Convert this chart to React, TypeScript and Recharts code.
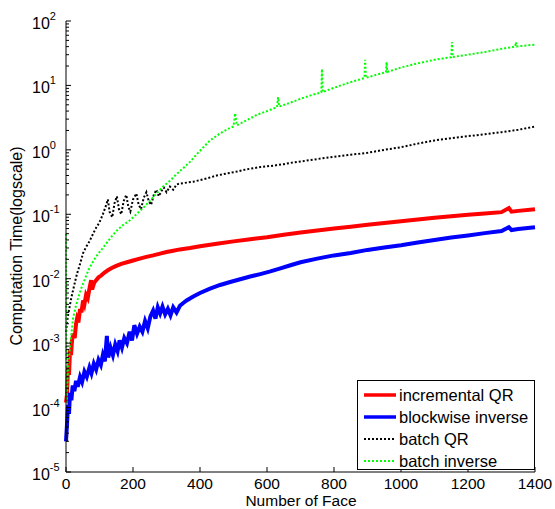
import { LineChart, Line, XAxis, YAxis, Legend } from 'recharts';

const FONT = "'Liberation Sans', Arial, sans-serif";

const xTicks = [0, 200, 400, 600, 800, 1000, 1200, 1400];
const yDecades = [1e-5, 1e-4, 1e-3, 1e-2, 1e-1, 1e0, 1e1, 1e2];
const yMinorSteps = [1, 2, 3, 4, 5, 6, 7, 8, 9];

// [number of faces, seconds]
const incrementalQR: [number, number][] = [
  [0, 1.2e-4], [3, 1.6e-4], [6, 4.3e-4], [9, 3.2e-4], [12, 8e-4], [15, 6.5e-4], [18, 1.1e-3],
  [22, 1.4e-3], [26, 1.2e-3], [30, 2.0e-3], [33, 2.4e-3], [37, 2.1e-3], [42, 3.4e-3], [46, 3.0e-3],
  [51, 4.6e-3], [55, 4.0e-3], [60, 5.6e-3], [65, 5.0e-3], [70, 7.0e-3], [75, 9.5e-3], [78, 6.8e-3],
  [84, 8.6e-3], [90, 9.5e-3], [97, 1.05e-2], [105, 1.12e-2], [115, 1.25e-2], [125, 1.35e-2],
  [135, 1.45e-2], [150, 1.58e-2], [165, 1.7e-2], [182, 1.8e-2], [200, 1.92e-2], [220, 2.05e-2],
  [240, 2.18e-2], [260, 2.3e-2], [281, 2.45e-2], [300, 2.6e-2], [320, 2.72e-2], [340, 2.85e-2],
  [370, 3.0e-2], [400, 3.2e-2], [450, 3.5e-2], [500, 3.8e-2], [550, 4.1e-2], [600, 4.4e-2],
  [650, 4.8e-2], [700, 5.2e-2], [750, 5.6e-2], [800, 6.0e-2], [850, 6.4e-2], [900, 6.9e-2],
  [950, 7.3e-2], [1000, 7.8e-2], [1050, 8.3e-2], [1100, 8.8e-2], [1150, 9.3e-2], [1200, 9.8e-2],
  [1250, 0.103], [1300, 0.108], [1322, 0.125], [1330, 0.11], [1350, 0.113], [1400, 0.12],
];

const blockwiseInverse: [number, number][] = [
  [0, 3.0e-5], [3, 5.5e-5], [6, 1.1e-4], [9, 8e-5], [12, 1.7e-4], [16, 1.3e-4], [20, 2.2e-4],
  [25, 1.8e-4], [30, 2.6e-4], [35, 2.1e-4], [42, 3.0e-4], [48, 2.5e-4], [55, 3.6e-4], [62, 3.0e-4],
  [70, 4.2e-4], [76, 3.4e-4], [83, 4.8e-4], [90, 3.9e-4], [97, 5.5e-4], [104, 4.6e-4], [110, 6.5e-4],
  [116, 5.2e-4], [122, 1.3e-3], [126, 6.0e-4], [133, 8.5e-4], [140, 6.5e-4], [147, 9.5e-4],
  [154, 7.5e-4], [160, 1.1e-3], [167, 8.5e-4], [174, 1.2e-3], [182, 1.0e-3], [190, 1.5e-3],
  [197, 1.1e-3], [204, 1.9e-3], [212, 1.4e-3], [220, 1.8e-3], [228, 1.5e-3], [236, 2.2e-3],
  [244, 1.7e-3], [252, 2.6e-3], [260, 3.2e-3], [267, 2.4e-3], [274, 3.6e-3], [281, 2.9e-3],
  [288, 3.7e-3], [296, 2.8e-3], [304, 3.4e-3], [312, 2.7e-3], [320, 3.6e-3], [330, 3.0e-3],
  [340, 3.8e-3], [350, 4.2e-3], [360, 4.6e-3], [380, 5.3e-3], [400, 6.0e-3], [430, 7.0e-3],
  [460, 8.0e-3], [490, 8.9e-3], [520, 9.8e-3], [550, 1.08e-2], [580, 1.18e-2], [610, 1.3e-2],
  [640, 1.45e-2], [670, 1.62e-2], [700, 1.8e-2], [750, 2.05e-2], [800, 2.3e-2], [850, 2.5e-2],
  [900, 2.8e-2], [950, 3.05e-2], [1000, 3.3e-2], [1050, 3.65e-2], [1100, 4.0e-2], [1150, 4.35e-2],
  [1200, 4.7e-2], [1250, 5.1e-2], [1300, 5.5e-2], [1322, 6.3e-2], [1330, 5.7e-2], [1350, 5.9e-2],
  [1400, 6.3e-2],
];

const batchQR: [number, number][] = [
  [0, 1.5e-3], [5, 2.5e-3], [10, 3.5e-3], [15, 4.8e-3], [21, 6.6e-3], [27, 9e-3], [33, 1.2e-2],
  [42, 1.7e-2], [51, 2.5e-2], [60, 3.1e-2], [70, 3.8e-2], [81, 5.0e-2], [90, 6.2e-2], [100, 7.5e-2],
  [110, 0.1], [118, 0.13], [125, 0.17], [130, 0.11], [138, 0.09], [145, 0.15], [152, 0.19],
  [158, 0.12], [165, 0.1], [172, 0.16], [180, 0.2], [186, 0.13], [192, 0.11], [200, 0.17],
  [210, 0.21], [217, 0.14], [224, 0.12], [232, 0.18], [240, 0.22], [247, 0.16], [254, 0.14],
  [262, 0.2], [270, 0.24], [277, 0.19], [285, 0.23], [292, 0.26], [300, 0.22], [310, 0.27],
  [320, 0.24], [330, 0.29], [340, 0.3], [360, 0.31], [380, 0.32], [400, 0.34], [420, 0.36],
  [450, 0.4], [480, 0.43], [510, 0.46], [540, 0.5], [580, 0.54], [620, 0.57], [650, 0.6],
  [680, 0.64], [700, 0.66], [750, 0.72], [800, 0.78], [850, 0.84], [900, 0.9], [950, 1.0],
  [1000, 1.1], [1050, 1.25], [1100, 1.4], [1150, 1.52], [1200, 1.63], [1250, 1.75], [1300, 1.88],
  [1350, 2.05], [1400, 2.3],
];

const batchInverse: [number, number][] = [
  [0, 0.05], [2, 1.2e-4], [5, 3e-4], [9, 6e-4], [14, 1.1e-3], [21, 2.4e-3], [28, 3.5e-3],
  [36, 5e-3], [45, 7e-3], [55, 9.5e-3], [68, 1.4e-2], [82, 1.9e-2], [95, 2.4e-2], [110, 3.0e-2],
  [125, 3.8e-2], [140, 4.8e-2], [155, 5.8e-2], [170, 6.8e-2], [190, 8.0e-2], [210, 0.1],
  [230, 0.125], [250, 0.16], [270, 0.21], [290, 0.27], [310, 0.33], [330, 0.42], [350, 0.52],
  [370, 0.65], [390, 0.85], [410, 1.1], [430, 1.4], [460, 1.8], [490, 2.2], [500, 2.3], [505, 3.7],
  [510, 2.4], [540, 2.9], [570, 3.5], [600, 4.0], [630, 4.6], [633, 6.6], [636, 4.7], [670, 5.4],
  [700, 6.2], [730, 7.0], [762, 7.8], [764, 18], [766, 7.9], [800, 9.2], [830, 10.4], [860, 11.7],
  [891, 13], [893, 25], [895, 13.1], [930, 14.8], [955, 16], [957, 23], [959, 16.2], [1000, 19],
  [1050, 22], [1100, 25], [1150, 27.5], [1152, 47], [1154, 27.6], [1200, 30], [1250, 33],
  [1300, 37], [1341, 40], [1343, 47], [1345, 40.2], [1400, 43],
];

const series = [
  { name: 'incremental QR', color: '#ff0000', data: incrementalQR, width: 4, dash: undefined as string | undefined },
  { name: 'blockwise inverse', color: '#0000ff', data: blockwiseInverse, width: 4, dash: undefined as string | undefined },
  { name: 'batch QR', color: '#000000', data: batchQR, width: 2, dash: '2 2' },
  { name: 'batch inverse', color: '#00ff00', data: batchInverse, width: 2, dash: '2 2' },
];

const yTicks = yDecades.flatMap((d, i) =>
  i === yDecades.length - 1 ? [d] : yMinorSteps.map((m) => d * m)
);

const isDecade = (v: number) => {
  const lg = Math.log10(v);
  return Math.abs(lg - Math.round(lg)) < 1e-6;
};

const LeftTick = (props: any) => {
  const { x, y, payload } = props;
  const major = isDecade(payload.value);
  const exp = Math.round(Math.log10(payload.value));
  return (
    <g>
      <line x1={x} x2={x + (major ? 5 : 3)} y1={y} y2={y} stroke="#000" />
      {major && (
        <text x={x - 34} y={y + 8} textAnchor="start" fontSize={16} fontFamily={FONT} fill="#000">
          10<tspan dy={-9} fontSize={11}>{exp}</tspan>
        </text>
      )}
    </g>
  );
};

const RightTick = (props: any) => {
  const { x, y, payload } = props;
  const major = isDecade(payload.value);
  return <line x1={x} x2={x - (major ? 5 : 3)} y1={y} y2={y} stroke="#000" />;
};

const BottomTick = (props: any) => {
  const { x, y, payload } = props;
  return (
    <g>
      <line x1={x} x2={x} y1={y} y2={y - 5} stroke="#000" />
      <text x={x} y={y + 17} textAnchor="middle" fontSize={15.5} fontFamily={FONT} fill="#000">
        {payload.value}
      </text>
    </g>
  );
};

const TopTick = (props: any) => {
  const { x, y } = props;
  return <line x1={x} x2={x} y1={y} y2={y + 5} stroke="#000" />;
};

const LegendBox = () => (
  <div
    style={{
      boxSizing: 'border-box',
      width: 178,
      height: 90,
      border: '1px solid #000',
      background: '#fff',
      padding: '3px 0 0 5px',
      fontFamily: FONT,
      fontSize: 16.5,
      color: '#000',
    }}
  >
    {series.map((s) => (
      <div key={s.name} style={{ display: 'flex', alignItems: 'center', height: 22 }}>
        <svg width={34} height={6} style={{ display: 'block' }}>
          <line x1={1} x2={33} y1={3} y2={3} stroke={s.color} strokeWidth={s.dash ? 2 : 3.5} strokeDasharray={s.dash} />
        </svg>
        <span style={{ marginLeft: 2, lineHeight: '20px', whiteSpace: 'nowrap' }}>{s.name}</span>
      </div>
    ))}
  </div>
);

export default function App() {
  return (
    <div style={{ position: 'absolute', left: 0, top: 0, background: '#fff' }}>
      <LineChart width={555} height={509} margin={{ top: 21, right: 20, bottom: 0, left: 0 }}>
        <XAxis
          xAxisId="bottom"
          dataKey="0"
          type="number"
          domain={[0, 1400]}
          ticks={xTicks}
          interval={0}
          height={37}
          tickSize={0}
          tickMargin={0}
          tickLine={false}
          axisLine={{ stroke: '#000' }}
          tick={BottomTick}
          label={{
            content: () => (
              <text x={301} y={506} textAnchor="middle" fontSize={15.5} fontFamily={FONT} fill="#000">
                Number of Face
              </text>
            ),
          }}
        />
        <XAxis
          xAxisId="top"
          orientation="top"
          type="number"
          domain={[0, 1400]}
          ticks={xTicks}
          interval={0}
          height={0}
          tickSize={0}
          tickMargin={0}
          tickLine={false}
          axisLine={{ stroke: '#000' }}
          tick={TopTick}
        />
        <YAxis
          yAxisId="left"
          scale="log"
          type="number"
          domain={[1e-5, 100]}
          allowDataOverflow
          ticks={yTicks}
          interval={0}
          width={66}
          tickSize={0}
          tickMargin={0}
          tickLine={false}
          axisLine={{ stroke: '#000' }}
          tick={LeftTick}
          label={{
            content: () => (
              <text
                transform="translate(22,246) rotate(-90)"
                textAnchor="middle"
                fontSize={16}
                fontFamily={FONT}
                fill="#000"
              >
                Computation Time(logscale)
              </text>
            ),
          }}
        />
        <YAxis
          yAxisId="right"
          orientation="right"
          scale="log"
          type="number"
          domain={[1e-5, 100]}
          allowDataOverflow
          ticks={yTicks}
          interval={0}
          width={0}
          tickSize={0}
          tickMargin={0}
          tickLine={false}
          axisLine={{ stroke: '#000' }}
          tick={RightTick}
        />
        {series.map((s) => (
          <Line
            key={s.name}
            xAxisId="bottom"
            yAxisId="left"
            data={s.data}
            dataKey="1"
            name={s.name}
            type="linear"
            stroke={s.color}
            strokeWidth={s.width}
            strokeDasharray={s.dash}
            dot={false}
            isAnimationActive={false}
          />
        ))}
        <Legend
          layout="vertical"
          align="center"
          verticalAlign="middle"
          wrapperStyle={{ left: 357, top: 380, width: 178, height: 90 }}
          content={() => <LegendBox />}
        />
      </LineChart>
    </div>
  );
}
